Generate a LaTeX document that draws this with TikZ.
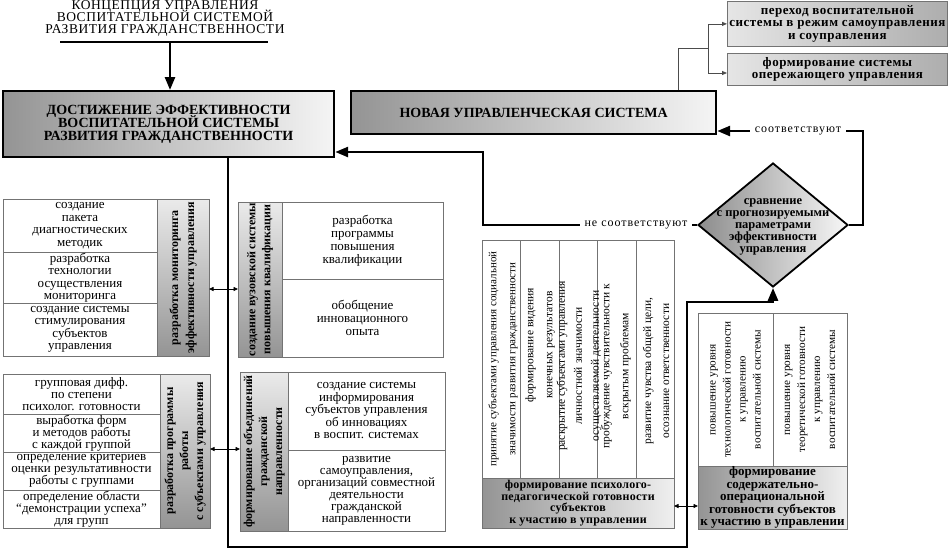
\documentclass[tikz,border=0pt]{standalone}
\usepackage{fontspec}
\setmainfont{Liberation Serif}
\usetikzlibrary{arrows.meta,shapes.geometric}
\newcommand\fs[2]{\fontsize{#1}{#2}\selectfont\lineskiplimit=-100pt\relax}
\newcommand\ls[1]{\addfontfeature{LetterSpace=#1}}
\begin{document}
\begin{tikzpicture}[x=1pt,y=-1pt,
  tb/.style={draw=black!55, line width=0.8pt, anchor=north west, inner sep=0pt, outer sep=0pt, align=center, font=\fs{13}{12.5}},
  vsh/.style={top color=black!8, bottom color=black!42},
  hsh/.style={left color=black!42, right color=black!6},
  hdt/.style={rotate=90, align=center, inner sep=0pt, font=\bfseries\fs{12}{15}},
  rtx/.style={rotate=90, align=center, inner sep=0pt, font=\fs{11.5}{18}},
  bigbox/.style={draw=black, line width=2.2pt, anchor=north west, inner sep=0pt, align=center, left color=black!42, right color=black!4},
  trbox/.style={draw=black!55, line width=0.8pt, anchor=north west, inner sep=0pt, align=center, font=\bfseries\fs{13}{12.5}\ls{4}, left color=black!10, right color=black!32},
  thk/.style={line width=2.6pt, line join=miter},
  bigtip/.style={-{Triangle[length=13pt,width=10pt]}},
  dbl/.style={line width=0.8pt, {Triangle[length=4.5pt,width=4pt]}-{Triangle[length=4.5pt,width=4pt]}},
  thin/.style={line width=0.8pt, draw=black!70},
  lbl/.style={fill=white, inner xsep=5pt, inner ysep=1pt, font=\fs{12}{12}\ls{8}}
]
\fill[white] (0,0) rectangle (949,552);
\useasboundingbox (0,0) rectangle (949,552);

% title
\node[align=center, inner sep=0pt, font=\fs{13.5}{12}\ls{4}] (title) at (165,18) {КОНЦЕПЦИЯ УПРАВЛЕНИЯ\\ВОСПИТАТЕЛЬНОЙ СИСТЕМОЙ\\РАЗВИТИЯ ГРАЖДАНСТВЕННОСТИ};
\coordinate (ulL) at (60,42);
\coordinate (ulR) at (268,42);
\draw[line width=1.5pt] (ulL) -- (ulR);

% main boxes
\node[bigbox, minimum width=331, minimum height=66, font=\bfseries\fs{14}{12.8}] (main) at (2,90) {ДОСТИЖЕНИЕ ЭФФЕКТИВНОСТИ\\ВОСПИТАТЕЛЬНОЙ СИСТЕМЫ\\РАЗВИТИЯ ГРАЖДАНСТВЕННОСТИ};
\node[bigbox, minimum width=365, minimum height=43, font=\bfseries\fs{14}{13}] (nov) at (350,90) {НОВАЯ УПРАВЛЕНЧЕСКАЯ СИСТЕМА};
\coordinate (ta) at (170,42);
\draw[thk, bigtip] (ta) -- (ta |- main.north);

% top right
\node[trbox, minimum width=220, minimum height=45] (tr1) at (727,1) {переход воспитательной\\системы в режим самоуправления\\и соуправления};
\node[trbox, minimum width=220, minimum height=32] (tr2) at (727,53) {формирование системы\\опережающего управления};
\coordinate (brA) at (678,48);
\coordinate (brB) at (708,48);
\coordinate (a2y) at (708,73);
\draw[thin] (nov.north -| brA) -- (brA) -- (brB);
\draw[thin, -{Triangle[length=5pt,width=4pt]}] (brB) |- (tr1.west);
\draw[thin, -{Triangle[length=5pt,width=4pt]}] (brB) -- (a2y) -- (a2y -| tr2.west);

% diamond
\node[diamond, draw=black, line width=1.8pt, minimum width=150, minimum height=124, inner sep=0pt, left color=black!45, right color=black!3] (dia) at (773,225) {};
\node[align=center, inner sep=0pt, font=\bfseries\fs{12.5}{12}] (diat) at (773,227) {сравнение\\с прогнозируемыми\\параметрами\\эффективности\\управления};

% table A
\node[tb, minimum width=154, minimum height=53] (a1) at (3,199) {создание\\пакета\\диагностических\\методик};
\node[tb, minimum width=154, minimum height=51] (a2) at (3,252) {разработка\\технологии\\осуществления\\мониторинга};
\node[tb, minimum width=154, minimum height=53] (a3) at (3,303) {создание системы\\стимулирования\\субъектов\\управления};
\node[tb, vsh, minimum width=52, minimum height=157] (ah) at (157,199) {};
\node[hdt, font=\bfseries\fs{12}{16}] (aht) at (ah.center) {разработка мониторинга\\эффективности управления};

% table B
\node[tb, minimum width=157, minimum height=40, font=\fs{13}{12}] (b1) at (3,374) {групповая дифф.\\по степени\\психолог. готовности};
\node[tb, minimum width=157, minimum height=38, font=\fs{13}{12}] (b2) at (3,414) {выработка форм\\и методов работы\\с каждой группой};
\node[tb, minimum width=157, minimum height=38, font=\fs{13}{12}] (b3) at (3,452) {определение критериев\\оценки результативности\\работы с группами};
\node[tb, minimum width=157, minimum height=38, font=\fs{13}{12}] (b4) at (3,490) {определение области\\“демонстрации успеха”\\для групп};
\node[tb, vsh, minimum width=50, minimum height=154] (bh) at (160,374) {};
\node[hdt] (bht) at (bh.center) {разработка программы\\работы\\с субъектами управления};

% middle 1
\node[tb, vsh, minimum width=44, minimum height=155] (mh1) at (238,202) {};
\node[hdt] (mh1t) at (mh1.center) {создание вузовской системы\\повышения квалификации};
\node[tb, minimum width=161, minimum height=77, font=\fs{13}{13}] (m11) at (282,202) {разработка\\программы\\повышения\\квалификации};
\node[tb, minimum width=161, minimum height=78, font=\fs{13}{13}] (m12) at (282,279) {обобщение\\инновационного\\опыта};

% middle 2
\node[tb, vsh, minimum width=48, minimum height=159] (mh2) at (240,372) {};
\node[hdt] (mh2t) at (mh2.center) {формирование объединений\\гражданской\\направленности};
\node[tb, minimum width=157, minimum height=78] (m21) at (288,372) {создание системы\\информирования\\субъектов управления\\об инновациях\\в воспит. системах};
\node[tb, minimum width=157, minimum height=81, font=\fs{13}{12}] (m22) at (288,450) {развитие\\самоуправления,\\организаций совместной\\деятельности\\гражданской\\направленности};

% psych table
\node[tb, minimum width=38, minimum height=238] (p1) at (482,240) {};
\node[tb, minimum width=39, minimum height=238] (p2) at (520,240) {};
\node[tb, minimum width=38, minimum height=238] (p3) at (559,240) {};
\node[tb, minimum width=39, minimum height=238] (p4) at (597,240) {};
\node[tb, minimum width=38, minimum height=238] (p5) at (636,240) {};
\node[rtx, font=\fs{11}{19}] (p1t) at (503,359) {принятие субъектами управления социальной\\значимости развития гражданственности};
\node[rtx, font=\fs{11.5}{19}] (p2t) at (540,345) {формирование видения\\конечных результатов};
\node[rtx, font=\fs{11.5}{17}] (p3t) at (579,366) {раскрытие субъектами управления\\личностной значимости\\осуществляемой деятельности};
\node[rtx, font=\fs{11.5}{19}] (p4t) at (616,366) {пробуждение чувствительности к\\вскрытым проблемам};
\node[rtx, font=\fs{11.5}{18}] (p5t) at (656,371) {развитие чувства общей цели,\\осознание ответственности};
\node[tb, hsh, minimum width=192, minimum height=50, font=\bfseries\fs{12}{11.7}\ls{2}] (ph) at (482,478) {формирование психолого-\\педагогической готовности\\субъектов\\к участию в управлении};

% right table
\node[tb, minimum width=75, minimum height=153] (r1) at (698,313) {};
\node[tb, minimum width=74, minimum height=153] (r2) at (773,313) {};
\node[rtx, font=\fs{11.2}{15}] (r1t) at (r1.center) {повышение уровня\\технологической готовности\\к управлению\\воспитательной системы};
\node[rtx, font=\fs{11.2}{15}] (r2t) at (r2.center) {повышение уровня\\теоретической готовности\\к управлению\\воспитательной системы};
\node[tb, hsh, minimum width=149, minimum height=63, font=\bfseries\fs{13}{12.5}] (rh) at (698,466) {формирование\\содержательно-\\операциональной\\готовности субъектов\\к участию в управлении};

% connectors
\coordinate (c2) at (863,131);
\draw[thk, bigtip] (dia.east) -- (dia.east -| c2) -- (c2) -- (c2 -| nov.east);
\node[lbl] (lsoot) at (798,131) {соответствуют};

\coordinate (n1) at (483,152);
\draw[thk, bigtip] (dia.west) -| (n1) -- (n1 -| main.east);
\node[lbl] (lnes) at (636,225) {не соответствуют};

\coordinate (f1) at (228,547);
\coordinate (f2) at (687,547);
\coordinate (f3) at (687,302);
\draw[thk, bigtip] (main.south -| f1) -- (f1) -- (f2) -- (f3) -- (f3 -| dia.south) -- (dia.south);

\coordinate (dA) at (0,289);
\coordinate (dB) at (0,449);
\coordinate (dC) at (0,506);
\draw[dbl] (dA -| ah.east) -- (dA -| mh1.west);
\draw[dbl] (dB -| bh.east) -- (dB -| mh2.west);
\draw[dbl] (dC -| ph.east) -- (dC -| rh.west);
\end{tikzpicture}
\end{document}
